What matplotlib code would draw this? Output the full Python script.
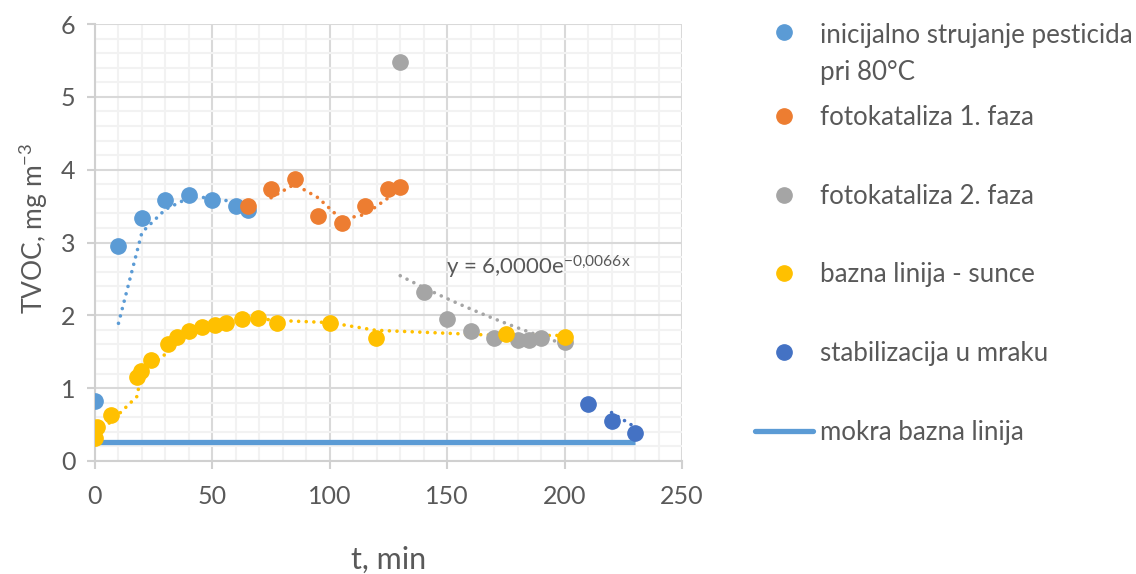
import matplotlib
matplotlib.use("Agg")
import matplotlib.pyplot as plt
import numpy as np

plt.rcParams['font.family'] = ['Lato', 'DejaVu Sans']
plt.rcParams['mathtext.fontset'] = 'custom'
plt.rcParams['mathtext.rm'] = 'Lato'
plt.rcParams['mathtext.default'] = 'regular'

txt_col = '#595959'

# series data (t in min, TVOC in mg m-3)
init_x = [0, 10, 20, 30, 40, 50, 60, 65]
init_y = [0.83, 2.95, 3.33, 3.58, 3.65, 3.59, 3.50, 3.45]

foto1_x = [65, 75, 85, 95, 105, 115, 125, 130]
foto1_y = [3.50, 3.73, 3.87, 3.36, 3.27, 3.50, 3.73, 3.76]

foto2_x = [130, 140, 150, 160, 170, 180, 185, 190, 200]
foto2_y = [5.48, 2.32, 1.95, 1.78, 1.69, 1.66, 1.66, 1.69, 1.63]

sun_x = [0, 1, 7, 18, 19.5, 24, 31, 35, 40, 45.5, 51, 56, 62.5, 69.5, 77.5, 100, 119.5, 175, 200]
sun_y = [0.32, 0.46, 0.63, 1.15, 1.24, 1.38, 1.61, 1.70, 1.79, 1.84, 1.87, 1.90, 1.95, 1.96, 1.90, 1.90, 1.69, 1.75, 1.70]

dark_x = [210, 220, 230]
dark_y = [0.78, 0.55, 0.38]

wet_x = [0, 230]
wet_y = [0.26, 0.26]

# exponential trendline shown on the chart: y = 6,0000e^(-0,0066x)
exp_a = 6.0
exp_b = -0.0066

series = [
    (init_x, init_y, '#5B9BD5', 'inicijalno strujanje pesticida\npri 80°C'),
    (foto1_x, foto1_y, '#ED7D31', 'fotokataliza 1. faza'),
    (foto2_x, foto2_y, '#A5A5A5', 'fotokataliza 2. faza'),
    (sun_x, sun_y, '#FFC000', 'bazna linija - sunce'),
    (dark_x, dark_y, '#4472C4', 'stabilizacija u mraku'),
]

fig = plt.figure(figsize=(11.36, 5.74), dpi=100)
ax = fig.add_axes([95 / 1136, 113 / 574, 587 / 1136, 437 / 574])

dots = dict(ls=(0, (0.01, 2.1)), lw=2.6, dash_capstyle='round')

handles = []
for i, (x, y, c, lab) in enumerate(series):
    x = np.array(x, float)
    y = np.array(y, float)
    h, = ax.plot(x, y, 'o', ms=11, color=c, label=lab, zorder=4 + i * 0.1, ls='none')
    handles.append(h)
    if i == 2:
        tx = np.linspace(x[0], x[-1], 50)
        ax.plot(tx, exp_a * np.exp(exp_b * tx), color='#A5A5A5', zorder=3, **dots)
    else:
        # 2-period moving average trendline
        ax.plot(x[1:], (y[1:] + y[:-1]) / 2, color=c, zorder=3, **dots)

wet, = ax.plot(wet_x, wet_y, color='#5B9BD5', lw=3.8, solid_capstyle='butt', zorder=3.5,
               label='mokra bazna linija')
handles.append(wet)

ax.text(149.5, 2.66, 'y = 6,0000e$^{-0{,}0066x}$', fontsize=16, color=txt_col,
        ha='left', va='center', zorder=6)

ax.set_xlim(0, 250)
ax.set_ylim(0, 6)
ax.set_xticks(np.arange(0, 251, 50))
ax.set_yticks(np.arange(0, 7, 1))
ax.set_xticks(np.arange(0, 251, 10), minor=True)
ax.set_yticks(np.arange(0, 6.01, 0.2), minor=True)
ax.grid(True, which='major', color='#D9D9D9', lw=1.5, zorder=0)
ax.grid(True, which='minor', color='#F2F2F2', lw=1.5, zorder=0)
ax.set_axisbelow(True)
for s in ['top', 'right']:
    ax.spines[s].set_visible(False)
for s in ['left', 'bottom']:
    ax.spines[s].set_color('#D0D0D0')
    ax.spines[s].set_linewidth(1.5)
ax.tick_params(which='major', direction='out', length=6, width=1.5, color='#D0D0D0',
               labelsize=18, labelcolor=txt_col, pad=8)
ax.tick_params(axis='x', pad=11)
ax.tick_params(which='minor', length=0)

ax.set_xlabel('t, min', fontsize=22, color=txt_col)
ax.set_ylabel('TVOC, mg m$^{-3}$', fontsize=19, color=txt_col)
ax.xaxis.set_label_coords(0.5, -0.195)
ax.yaxis.set_label_coords(-0.077, 0.533)

leg_kw = dict(loc='upper left', bbox_transform=fig.transFigure, frameon=False, fontsize=18.6,
              labelcolor=txt_col, borderpad=0, borderaxespad=0, handlelength=2.25,
              handletextpad=0.25, markerscale=1.0)
leg1 = ax.legend(handles=handles[:1], bbox_to_anchor=(755 / 1136, 1 - 23 / 574), **leg_kw)
leg1.get_texts()[0].set_linespacing(1.6)
leg1._legend_handle_box.get_children()[0].get_children()[0].align = 'top'
ax.add_artist(leg1)
leg2 = ax.legend(handles=handles[1:], bbox_to_anchor=(755 / 1136, 1 - 105 / 574),
                 labelspacing=2.08, **leg_kw)
for lh in leg2.get_lines():
    lh.set_solid_capstyle('round')

fig.savefig('out.png', dpi=100)
